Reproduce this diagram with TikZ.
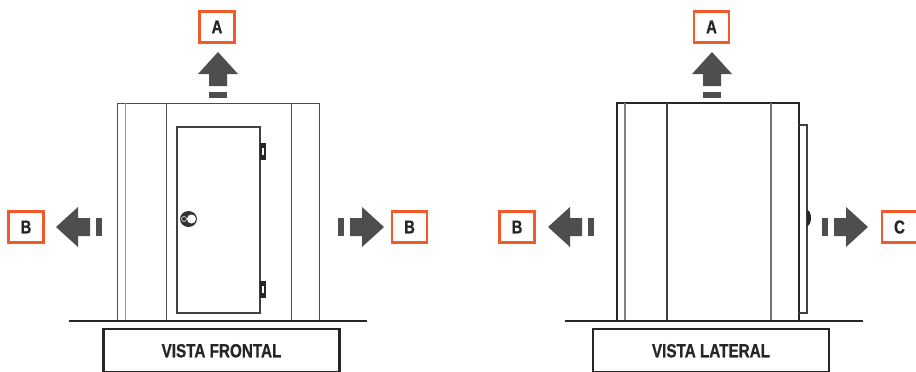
\documentclass[tikz,border=0pt]{standalone}
\usepackage{fontspec}
\newfontfamily\rotulo[FakeStretch=0.8,FakeBold=0.8]{Liberation Sans}
\definecolor{naranja}{HTML}{F15A29}
\definecolor{gris}{HTML}{4D4E50}
\tikzset{
  letra/.style={draw=naranja,line width=1.9pt,fill=white,inner sep=0pt,minimum width=26.5pt,minimum height=23.5pt,text=black!85,font=\rotulo\bfseries\fontsize{14}{14}\selectfont},
  titulo/.style={draw=black!85,line width=1.7pt,inner sep=0pt,minimum width=177pt,minimum height=32.6pt,text=black!85,font=\rotulo\bfseries\fontsize{14.3}{14}\selectfont},
  linea/.style={draw=black!70,line width=0.75pt},
  clara/.style={draw=black!40,line width=0.75pt}
}
\begin{document}
\begin{tikzpicture}[x=0.75pt,y=-0.75pt]
\useasboundingbox (0,0) rectangle (916,371);
% x, y, rotation
\def\flecha#1#2#3{
\begin{scope}[shift={(#1,#2)},rotate=#3]
\fill [gris] (0,0) -- (20,22) -- (9,22) -- (9,34) -- (-9,34) -- (-9,22) -- (-20,22) -- cycle;
\fill [gris] (-9,40) rectangle (9,46);
\end{scope}
}
% y of the hinge
\def\bisagra#1{
\fill [black!85] (260,#1) rectangle +(5.5,17);
\fill [white] (261.5,#1+5) rectangle +(2.5,7);
}
% front view
\draw [linea] (117,321) -- (117,103) -- (319,103) -- (319,321);
\draw [clara] (125,103) -- (125,321);
\draw [linea] (166,103) -- (166,321);
\draw [linea] (291,103) -- (291,321);
\draw [black!75,line width=1.5pt] (177,127) rectangle (260,313);
\bisagra{143}
\bisagra{281}
\fill [black!80] (188.5,219) ellipse (8.5 and 8);
\fill [white] (191.5,219) circle (4.5);
\draw [white,line width=0.4pt] (184,219) circle (2.5);
\draw [black!85,line width=0.9pt] (69,321) -- (367,321);
\node [titulo] (frontal) at (221.5,350.75) {VISTA FRONTAL};
\node [letra] (afrontal) at (217,27) {A};
\node [letra] (bizq) at (26,227) {B};
\node [letra] (bder) at (409.5,227) {B};
\flecha{218}{52}{0}
\flecha{56}{227}{90}
\flecha{384}{227}{-90}
% side view
\draw [black!85,line width=1.1pt] (617,321) -- (617,103) -- (799,103) -- (799,321);
\draw [black!50,line width=1pt] (625,103) -- (625,321);
\draw [black!75,line width=1pt] (667,103) -- (667,321);
\draw [black!55,line width=1pt] (771,103) -- (771,321);
\draw [black!75,line width=0.9pt] (799,125) -- (807,125) -- (807,313) -- (799,313);
\fill [black!85] (807,210) arc (90:-90:4 and -8) -- cycle;
\draw [black!85,line width=0.9pt] (565,321) -- (863,321);
\node [titulo] (lateral) at (711,350.75) {VISTA LATERAL};
\node [letra] (alateral) at (711.5,27) {A};
\node [letra] (blateral) at (517,227) {B};
\node [letra] (clateral) at (899.5,227) {C};
\flecha{712}{52}{0}
\flecha{548}{227}{90}
\flecha{868}{227}{-90}
\end{tikzpicture}
\end{document}
